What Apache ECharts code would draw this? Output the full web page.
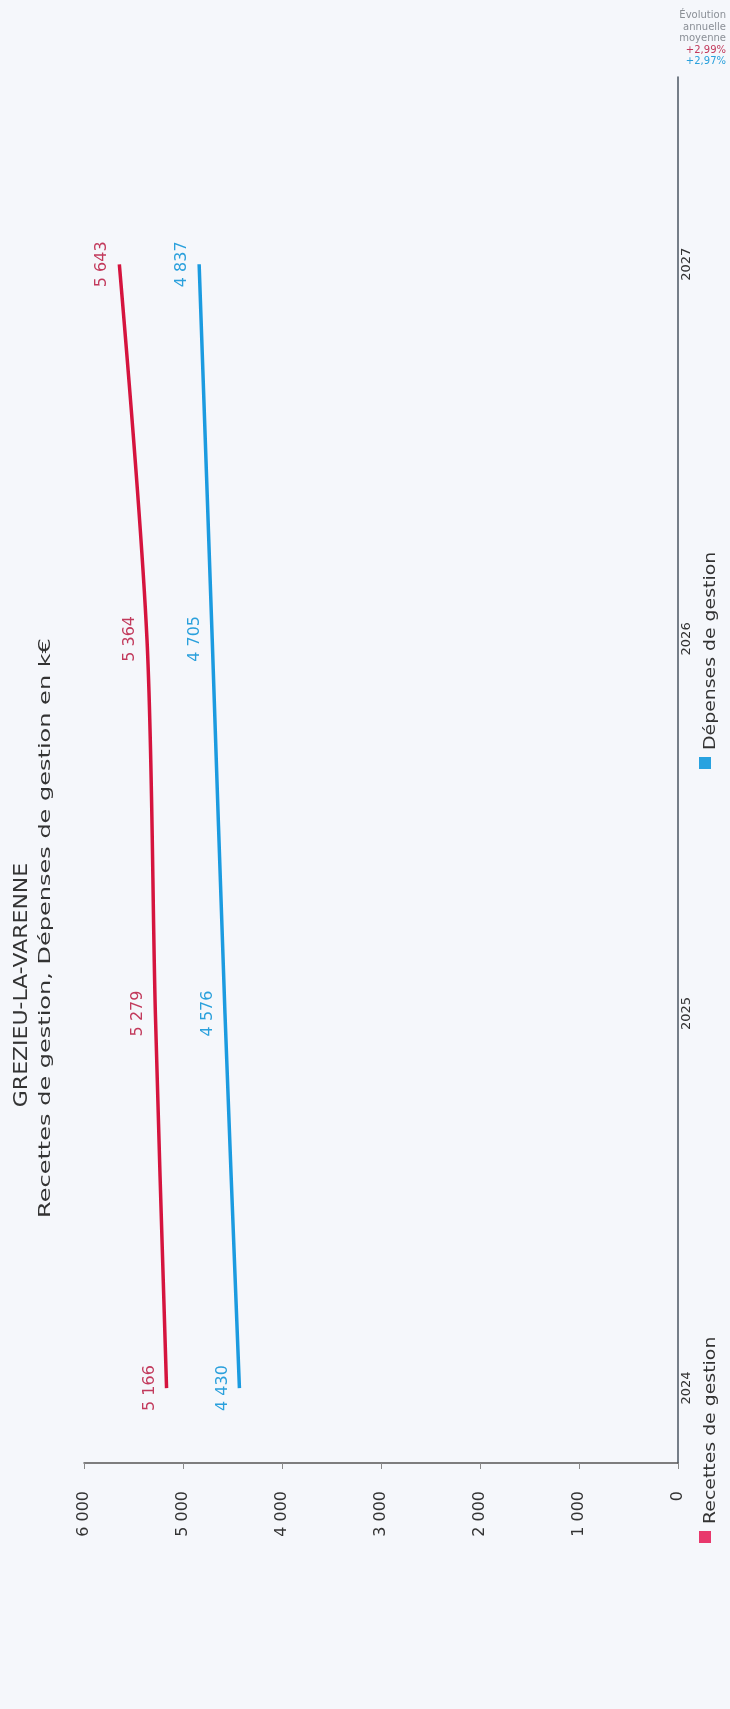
<!DOCTYPE html>
<html>
<head>
<meta charset="utf-8">
<script src="https://cdn.jsdelivr.net/npm/echarts@6/dist/echarts.min.js"></script>
<style>
html,body{margin:0;padding:0;background:#f5f7fb;}
#chart{width:730px;height:1709px;}
</style>
</head>
<body>
<div id="chart"></div>
<script>
const years = [2024, 2025, 2026, 2027];
const recettes = [5166, 5279, 5364, 5643];
const depenses = [4430, 4576, 4705, 4837];
const seriesNames = ['Recettes de gestion', 'Dépenses de gestion'];
const evolution = ['+2,99%', '+2,97%'];
const titleText = 'GREZIEU-LA-VARENNE';
const subtitleText = 'Recettes de gestion, Dépenses de gestion en k€';

const FONT = 'DejaVu Sans';
const RED = '#d5143e', RED_LBL = '#c23a5c', BLUE = '#1b9be0', BLUE_LBL = '#2aa0dc';
const fmt = v => String(v).replace(/\B(?=(\d{3})+(?!\d))/g, ' ');

const chart = echarts.init(document.getElementById('chart'));

function mkSeries(name, vals, color, lblColor) {
  return {
    name: name, type: 'line', smooth: 0.3,
    symbol: 'circle', symbolSize: 0.1, showSymbol: true,
    lineStyle: {color: color, width: 3.5},
    itemStyle: {color: color},
    data: years.map((y, i) => [vals[i], y]),
    label: {
      show: true, position: 'left', distance: 9, rotate: 90,
      align: 'center', verticalAlign: 'bottom',
      color: lblColor, fontSize: 16, fontFamily: FONT,
      formatter: p => fmt(p.value[0])
    }
  };
}

chart.setOption({
  backgroundColor: '#f5f7fb',
  animation: false,
  grid: {left: 84, right: 52, top: 77, bottom: 246},
  xAxis: {
    type: 'value', min: 0, max: 6000, interval: 1000, inverse: true, position: 'bottom',
    axisLine: {show: true, lineStyle: {color: '#555', width: 1.5}},
    axisTick: {show: true, length: 6, lineStyle: {color: '#888'}},
    splitLine: {show: false},
    axisLabel: {rotate: 90, margin: 28, fontSize: 16, color: '#333', fontFamily: FONT, formatter: v => fmt(v)}
  },
  yAxis: {
    type: 'value', min: 2023.8, max: 2027.5, position: 'right',
    axisLine: {show: true, lineStyle: {color: '#4a5662', width: 1.5}},
    axisTick: {show: false},
    splitLine: {show: false},
    axisLabel: {customValues: years, rotate: 90, margin: 2, fontSize: 13, color: '#333', fontFamily: FONT, formatter: v => String(v)}
  },
  series: [
    mkSeries(seriesNames[0], recettes, RED, RED_LBL),
    mkSeries(seriesNames[1], depenses, BLUE, BLUE_LBL)
  ],
  graphic: [
    {type: 'text', x: 22, y: 985, rotation: Math.PI / 2, scaleX: 1.1,
     style: {text: titleText, fontSize: 20, fontFamily: FONT, fill: '#333', align: 'center', verticalAlign: 'middle'}},
    {type: 'text', x: 46, y: 928, rotation: Math.PI / 2, scaleX: 1.5,
     style: {text: subtitleText, fontSize: 16, fontFamily: FONT, fill: '#333', align: 'center', verticalAlign: 'middle'}},
    {type: 'rect', shape: {x: 699, y: 1531, width: 12, height: 12}, style: {fill: '#e8386c'}},
    {type: 'text', x: 711, y: 1524, rotation: Math.PI / 2, scaleX: 1.18,
     style: {text: seriesNames[0], fontSize: 16, fontFamily: FONT, fill: '#333', align: 'left', verticalAlign: 'middle'}},
    {type: 'rect', shape: {x: 699, y: 757, width: 12, height: 12}, style: {fill: '#28a2e0'}},
    {type: 'text', x: 711, y: 750, rotation: Math.PI / 2, scaleX: 1.18,
     style: {text: seriesNames[1], fontSize: 16, fontFamily: FONT, fill: '#333', align: 'left', verticalAlign: 'middle'}},
    {type: 'text', x: 726, y: 10,
     style: {
       text: '{g|Évolution}\n{g|annuelle}\n{g|moyenne}\n{r|' + evolution[0] + '}\n{b|' + evolution[1] + '}',
       align: 'right', verticalAlign: 'top', fontFamily: FONT,
       rich: {
         g: {fontSize: 10, lineHeight: 11.5, fill: '#8a8f96', fontFamily: FONT, align: 'right'},
         r: {fontSize: 10, lineHeight: 11.5, fill: RED_LBL, fontFamily: FONT, align: 'right'},
         b: {fontSize: 10, lineHeight: 11.5, fill: BLUE_LBL, fontFamily: FONT, align: 'right'}
       }
     }}
  ]
});
</script>
</body>
</html>
